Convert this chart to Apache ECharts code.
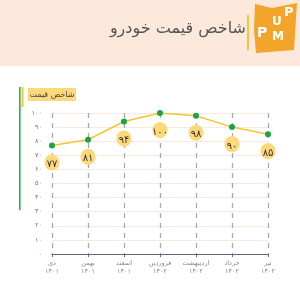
<!DOCTYPE html>
<html><head><meta charset="utf-8">
<script src="https://cdn.jsdelivr.net/npm/echarts@6/dist/echarts.min.js"></script>
<style>html,body{margin:0;padding:0;background:#fff}#c{width:300px;height:300px}</style>
</head><body><div id="c"></div>
<script>
var titleText = 'شاخص قیمت خودرو';
var seriesName = 'شاخص قیمت';
var months = ['دی','بهمن','اسفند','فروردین','اردیبهشت','خرداد','تیر'];
var years = ['۱۴۰۱','۱۴۰۱','۱۴۰۱','۱۴۰۲','۱۴۰۲','۱۴۰۲','۱۴۰۲'];
var values = [77, 81, 94, 100, 98, 90, 85];
var yMin = 0, yMax = 100, yStep = 10;

function fa(n){ return String(n).replace(/[0-9]/g, function(d){ return '۰۱۲۳۴۵۶۷۸۹'[+d]; }); }
var categories = months.map(function(m,i){ return m + '\n' + years[i]; });
var font = 'DejaVu Sans';

var chart = echarts.init(document.getElementById('c'));
chart.setOption({
  animation: false,
  backgroundColor: '#fff',
  textStyle: { fontFamily: font },
  grid: { left: 52, right: 32, top: 113, bottom: 46 },
  graphic: [
    { type: 'rect', shape: { x: 0, y: 0, width: 300, height: 66 }, style: { fill: '#fde9dc' }, z: -10 },
    { type: 'text', right: 54, top: 21, style: { text: titleText, font: '16px ' + font, fill: '#555', textAlign: 'right' } },
    { type: 'rect', shape: { x: 247, y: 15, width: 2, height: 35 }, style: { fill: '#f7c531' } },
    { type: 'polygon', shape: { points: [[255,4],[272,8],[297,3],[294,50],[256,53],[254,30]] }, style: { fill: '#f3a42a' }, z: 10 },
    { type: 'text', x: 272, y: 16, style: { text: 'U', font: 'bold 12px ' + font, fill: '#ffffff' }, z: 20 },
    { type: 'text', x: 284, y: 6, style: { text: 'P', font: 'bold 13px ' + font, fill: '#ffffff' }, z: 20 },
    { type: 'text', x: 257, y: 26, style: { text: 'P', font: 'bold 14px ' + font, fill: '#ffffff' }, z: 20 },
    { type: 'text', x: 272, y: 31, style: { text: 'M', font: 'bold 12px ' + font, fill: '#ffffff' }, z: 20 },
    { type: 'rect', shape: { x: 19, y: 87, width: 1.6, height: 123 }, style: { fill: '#22b14c' } },
    { type: 'rect', shape: { x: 21.5, y: 87, width: 2, height: 20 }, style: { fill: '#f7c531' } },
    { type: 'rect', shape: { x: 28, y: 88, width: 48, height: 13 }, style: { fill: '#fdd97a' } },
    { type: 'text', x: 52, y: 94.5, style: { text: seriesName, font: '8px ' + font, fill: '#444', textAlign: 'center', textVerticalAlign: 'middle' } }
  ],
  xAxis: {
    type: 'category',
    data: categories,
    boundaryGap: false,
    axisLine: { lineStyle: { color: '#666', width: 1.2 } },
    axisTick: { alignWithLabel: true, length: 3, lineStyle: { color: '#666' } },
    axisLabel: { color: '#888', fontSize: 6.5, lineHeight: 8, margin: 5, interval: 0 },
    splitLine: { show: true, lineStyle: { color: '#aaa', type: [5, 5], width: 1.3 } }
  },
  yAxis: {
    type: 'value',
    min: yMin, max: yMax, interval: yStep,
    axisLine: { show: false },
    axisTick: { show: false },
    axisLabel: { color: '#777', fontSize: 6.5, margin: 10, formatter: function(v){ return fa(v); } },
    splitLine: { lineStyle: { color: '#fce9de', width: 1 } }
  },
  series: [{
    name: seriesName,
    type: 'line',
    data: values,
    symbol: 'circle',
    symbolSize: 6,
    itemStyle: { color: '#1aa34a' },
    lineStyle: { color: '#f7c531', width: 1.5 },
    label: {
      show: true, position: 'bottom', distance: 6,
      formatter: function(p){ return fa(p.value); },
      backgroundColor: '#fdd97a', borderRadius: 8,
      width: 15, height: 12, lineHeight: 12, padding: [4, 0, 0, 0], align: 'center',
      color: '#333', fontSize: 10
    },
    z: 5
  }]
});
</script></body></html>
